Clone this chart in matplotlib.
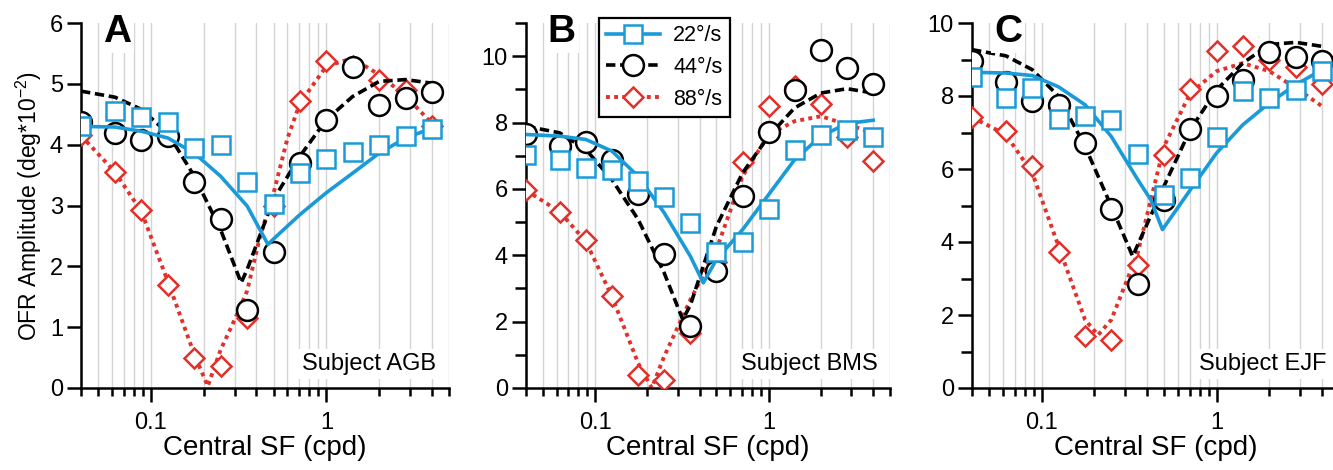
import matplotlib
matplotlib.use('Agg')
import matplotlib.pyplot as plt
from matplotlib.ticker import FixedLocator, NullFormatter, FixedFormatter
import numpy as np

plt.rcParams['font.family'] = ['Liberation Sans', 'DejaVu Sans']
plt.rcParams['mathtext.fontset'] = 'custom'
plt.rcParams['mathtext.rm'] = 'Liberation Sans'
plt.rcParams['mathtext.it'] = 'Liberation Sans'

BLUE = '#1b9ad8'
BLACK = '#000000'
RED = '#e2302b'

# central spatial frequencies (cpd)
sf = [0.04, 0.0625, 0.0884, 0.125, 0.177, 0.25, 0.354, 0.5, 0.707, 1.0, 1.41, 2.0, 2.83, 4.0]

# ---- subject AGB ----
a_22 = [4.30, 4.55, 4.45, 4.37, 3.95, 3.99, 3.39, 3.03, 3.53, 3.76, 3.88, 4.00, 4.15, 4.26]
a_44 = [4.38, 4.20, 4.08, 4.14, 3.38, 2.78, 1.29, 2.24, 3.70, 4.41, 5.28, 4.66, 4.76, 4.86]
a_88 = [4.16, 3.55, 2.92, 1.69, 0.49, 0.36, 1.15, 3.00, 4.72, 5.38, 5.30, 5.07, 4.90, 4.30]
a_fit22_x = [0.04, 0.0625, 0.0884, 0.125, 0.177, 0.25, 0.354, 0.465, 0.5, 0.707, 1.0, 1.41, 2.0, 2.83, 4.0]
a_fit22_y = [4.30, 4.29, 4.22, 4.11, 3.86, 3.48, 2.99, 2.36, 2.45, 2.85, 3.21, 3.53, 3.86, 4.11, 4.27]
a_fit44_x = [0.04, 0.0625, 0.0884, 0.125, 0.177, 0.25, 0.327, 0.354, 0.5, 0.707, 1.0, 1.41, 2.0, 2.83, 4.0]
a_fit44_y = [4.88, 4.78, 4.58, 4.19, 3.48, 2.60, 1.73, 1.95, 3.10, 3.81, 4.41, 4.79, 5.04, 5.07, 5.01]
a_fit88_x = [0.04, 0.0625, 0.0884, 0.125, 0.177, 0.211, 0.25, 0.3, 0.354, 0.42, 0.5, 0.6, 0.707, 1.0, 1.41, 2.0, 2.83, 4.0]
a_fit88_y = [4.15, 3.55, 2.90, 1.75, 0.55, 0.03, 0.63, 1.12, 1.60, 2.50, 3.20, 4.10, 4.68, 5.29, 5.42, 5.15, 4.80, 4.35]

# ---- subject BMS ----
b_22 = [7.02, 6.88, 6.63, 6.56, 6.23, 5.76, 4.97, 4.10, 4.40, 5.38, 7.17, 7.61, 7.79, 7.56]
b_44 = [7.66, 7.29, 7.41, 6.86, 5.86, 4.05, 1.86, 3.52, 5.78, 7.72, 8.99, 10.20, 9.65, 9.15]
b_88 = [5.96, 5.31, 4.45, 2.78, 0.40, 0.25, 1.66, 3.80, 6.81, 8.49, 9.10, 8.57, 7.55, 6.85]
b_fit22_x = [0.04, 0.0625, 0.0884, 0.125, 0.177, 0.25, 0.354, 0.42, 0.5, 0.707, 1.0, 1.41, 2.0, 2.83, 4.0]
b_fit22_y = [7.64, 7.59, 7.49, 7.14, 6.38, 5.28, 3.97, 3.17, 3.87, 4.77, 5.83, 6.88, 7.59, 7.97, 8.07]
b_fit44_x = [0.04, 0.0625, 0.0884, 0.125, 0.177, 0.25, 0.32, 0.354, 0.5, 0.707, 1.0, 1.41, 2.0, 2.83, 4.0]
b_fit44_y = [7.89, 7.69, 7.19, 6.28, 5.08, 3.47, 2.06, 2.50, 4.87, 6.48, 7.59, 8.44, 8.89, 9.02, 8.89]
b_fit88_x = [0.04, 0.0625, 0.0884, 0.125, 0.177, 0.212, 0.25, 0.354, 0.5, 0.707, 1.0, 1.41, 2.0, 2.83, 4.0]
b_fit88_y = [5.96, 5.31, 4.42, 2.76, 0.75, 0.00, 0.95, 2.66, 4.17, 6.38, 7.64, 8.04, 8.19, 7.94, 7.69]

# ---- subject EJF ----
c_22 = [8.52, 7.95, 8.22, 7.38, 7.44, 7.35, 6.42, 5.30, 5.74, 6.89, 8.13, 7.95, 8.16, 8.69]
c_44 = [8.95, 8.38, 7.85, 7.76, 6.71, 4.90, 2.85, 5.16, 7.10, 8.01, 8.45, 9.21, 9.07, 8.95]
c_88 = [7.42, 7.05, 6.09, 3.72, 1.42, 1.32, 3.38, 6.37, 8.19, 9.22, 9.36, 9.00, 8.79, 8.34]
c_fit22_x = [0.04, 0.0625, 0.0884, 0.125, 0.177, 0.25, 0.354, 0.42, 0.49, 0.707, 1.0, 1.41, 2.0, 2.83, 4.0]
c_fit22_y = [8.65, 8.63, 8.56, 8.25, 7.76, 6.89, 5.71, 5.16, 4.34, 5.43, 6.44, 7.21, 7.81, 8.31, 8.72]
c_fit44_x = [0.04, 0.0625, 0.0884, 0.125, 0.177, 0.25, 0.331, 0.354, 0.5, 0.707, 1.0, 1.41, 2.0, 2.83, 4.0]
c_fit44_y = [9.27, 9.10, 8.72, 7.99, 6.62, 4.98, 3.61, 3.92, 5.53, 7.08, 8.17, 8.90, 9.41, 9.47, 9.36]
c_fit88_x = [0.04, 0.0625, 0.0884, 0.125, 0.177, 0.21, 0.25, 0.354, 0.5, 0.707, 1.0, 1.41, 2.0, 2.83, 4.0]
c_fit88_y = [7.42, 6.94, 5.89, 3.88, 1.87, 1.45, 1.87, 3.70, 6.62, 8.08, 8.68, 8.90, 8.68, 8.22, 7.72]

grid_x = [0.04, 0.05, 0.06, 0.07, 0.08, 0.09, 0.1, 0.2, 0.3, 0.4, 0.5, 0.6, 0.7, 0.8, 0.9,
          1, 2, 3, 4, 5]

LW = 2.6


def panel(ax, d22, d44, d88, f22, f44, f88, ymax, yticks, yminor, letter, subject, legend=False):
    ax.set_xscale('log')
    ax.set_xlim(0.04, 5)
    ax.set_ylim(0, ymax)
    for g in grid_x:
        ax.axvline(g, color='#d4d4d4', lw=1.0, zorder=0)
    # red underneath, then black, blue on top
    ax.plot(f88[0], f88[1], color=RED, lw=2.8, ls=(0, (1, 1.1)), zorder=2)
    ax.plot(sf, d88, ls='none', marker='D', ms=10, mfc='white', mec=RED, mew=1.8, zorder=3)
    ax.plot(f44[0], f44[1], color=BLACK, lw=LW, ls=(0, (2.6, 1.3)), zorder=4)
    ax.plot(sf, d44, ls='none', marker='o', ms=15, mfc='white', mec=BLACK, mew=1.8, zorder=5)
    ax.plot(f22[0], f22[1], color=BLUE, lw=LW, ls='-', zorder=6)
    ax.plot(sf, d22, ls='none', marker='s', ms=13, mfc='white', mec=BLUE, mew=1.8, zorder=7)

    for s in ['top', 'right']:
        ax.spines[s].set_visible(False)
    for s in ['left', 'bottom']:
        ax.spines[s].set_linewidth(1.8)
    ax.xaxis.set_major_locator(FixedLocator([0.1, 1]))
    ax.xaxis.set_major_formatter(FixedFormatter(['0.1', '1']))
    ax.xaxis.set_minor_locator(FixedLocator([g for g in grid_x if g not in (0.1, 1)]))
    ax.xaxis.set_minor_formatter(NullFormatter())
    ax.yaxis.set_major_locator(FixedLocator(yticks))
    ax.yaxis.set_minor_locator(FixedLocator(yminor))
    ax.tick_params(axis='both', which='major', direction='out', length=10, width=1.8,
                   labelsize=17, color='black')
    ax.tick_params(axis='x', which='minor', direction='out', length=6, width=1.8)
    ax.tick_params(axis='y', which='minor', direction='out', length=8, width=1.8)
    ax.tick_params(axis='x', which='major', pad=7)
    ax.tick_params(axis='y', which='major', pad=3)
    ax.set_xlabel('Central SF (cpd)', fontsize=20, labelpad=1)

    ax.text(0.06, 1.025, letter, transform=ax.transAxes, fontsize=28, fontweight='bold',
            va='top', ha='left', zorder=10,
            bbox=dict(facecolor='white', edgecolor='none', pad=2))
    ax.text(0.965, 0.035, subject, transform=ax.transAxes, fontsize=17, ha='right', va='bottom',
            zorder=10, bbox=dict(facecolor='white', edgecolor='none', pad=3))

    if legend:
        h1, = ax.plot([], [], color=BLUE, lw=LW, marker='s', ms=13, mfc='white', mec=BLUE, mew=1.8)
        h2, = ax.plot([], [], color=BLACK, lw=LW, ls=(0, (2.6, 1.3)), marker='o', ms=15,
                      mfc='white', mec=BLACK, mew=1.8)
        h3, = ax.plot([], [], color=RED, lw=2.8, ls=(0, (1, 1.1)), marker='D', ms=10,
                      mfc='white', mec=RED, mew=1.8)
        leg = ax.legend([h1, h2, h3], ['22°/s', '44°/s', '88°/s'], loc='upper left',
                        bbox_to_anchor=(0.2, 1.015), fontsize=15.5, handlelength=2.5,
                        fancybox=False, framealpha=1, edgecolor='black',
                        borderpad=0.35, labelspacing=0.5, handletextpad=0.6,
                        borderaxespad=0)
        leg.get_frame().set_linewidth(1.6)
        leg.set_zorder(20)


fig = plt.figure(figsize=(13.33, 4.7), dpi=100)
axA = fig.add_axes([81 / 1333, 82 / 470, 368 / 1333, 365 / 470])
axB = fig.add_axes([526 / 1333, 82 / 470, 364 / 1333, 365 / 470])
axC = fig.add_axes([972 / 1333, 82 / 470, 367 / 1333, 365 / 470])

panel(axA, a_22, a_44, a_88, (a_fit22_x, a_fit22_y), (a_fit44_x, a_fit44_y),
      (a_fit88_x, a_fit88_y), 6, [0, 1, 2, 3, 4, 5, 6], [], 'A', 'Subject AGB')
panel(axB, b_22, b_44, b_88, (b_fit22_x, b_fit22_y), (b_fit44_x, b_fit44_y),
      (b_fit88_x, b_fit88_y), 11, [0, 2, 4, 6, 8, 10], [1, 3, 5, 7, 9, 11], 'B', 'Subject BMS',
      legend=True)
panel(axC, c_22, c_44, c_88, (c_fit22_x, c_fit22_y), (c_fit44_x, c_fit44_y),
      (c_fit88_x, c_fit88_y), 10, [0, 2, 4, 6, 8, 10], [1, 3, 5, 7, 9], 'C', 'Subject EJF')

axA.set_ylabel('OFR Amplitude (deg*10$^{-2}$)', fontsize=16.5, labelpad=4)

fig.savefig('out.png', dpi=100)
